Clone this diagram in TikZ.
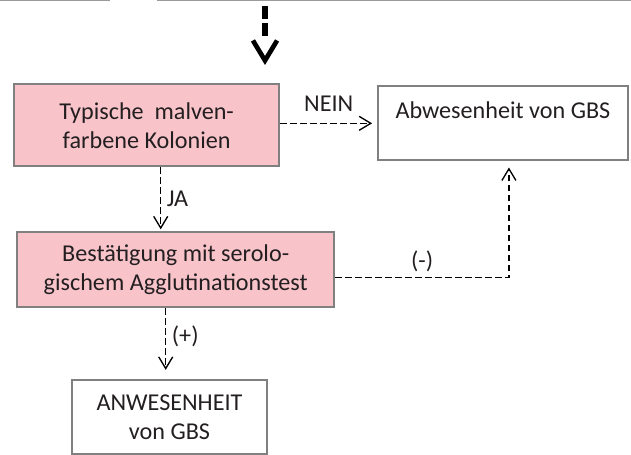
\documentclass[tikz,border=0pt]{standalone}
\usepackage{fontspec}
\setmainfont{Carlito}
\usetikzlibrary{arrows.meta}
\definecolor{boxpink}{RGB}{248,196,202}
\definecolor{boxgray}{RGB}{128,128,128}
\definecolor{txtgray}{RGB}{35,31,32}
\begin{document}
\begin{tikzpicture}[x=0.6pt,y=-0.6pt,
                font=\fontsize{14.5pt}{17.4pt}\selectfont,text=txtgray,
                box/.style={draw=boxgray,line width=1.2pt,align=center,inner sep=0pt},
                pinkbox/.style={box,fill=boxpink},
                flow/.style={dash pattern=on 4pt off 2pt,line width=0.8pt,-{Straight Barb[length=7pt,width=8.4pt]}}]
                \useasboundingbox (0,0) rectangle (631,455);
                %% top rule
                \draw[boxgray!80,line width=0.6pt] (0,0.5) -- (110,0.5) (156.7,0.5) -- (631,0.5);
                %% boxes
                \node[anchor=center,pinkbox,minimum width=159.2pt,minimum height=49.2pt] (typ) at (146.7,125.5) {Typische\ \ malven-\\farbene Kolonien};
                \node[anchor=center,box,minimum width=149.8pt,minimum height=44.4pt,text height=10.5pt,text depth=16.7pt] (abw) at (502.9,123.5) {Abwesenheit von GBS};
                \node[anchor=center,pinkbox,minimum width=190.4pt,minimum height=45pt] (bes) at (175.7,269.5) {Bestätigung mit serolo-\\gischem Agglutinationstest};
                \node[anchor=center,box,minimum width=117pt,minimum height=44.4pt] (anw) at (169.5,417) {ANWESENHEIT\\von GBS};
                %% incoming arrow
                \coordinate (start) at (265,6);
                \coordinate (entry) at (265,65);
                \draw[line width=3.6pt,dash pattern=on 8pt off 2pt on 8pt off 40pt,-{Straight Barb[length=12pt,width=14.5pt,line width=2.8pt]}] (start) -- (entry);
                %% connectors
                \draw[flow,shorten >=3pt] ([yshift=1.3pt]typ.east) -- ([yshift=1.3pt]abw.west |- typ.east) node[midway,above=3.2pt] {NEIN};
                \draw[flow,shorten >=1pt] ([xshift=8.4pt]typ.south) -- ([xshift=8.4pt]typ.south |- bes.north) node[midway,right] {JA};
                \draw[flow,shorten >=3.6pt] ([yshift=-4.9pt]bes.east) -| ([xshift=3.6pt]abw.south) node[pos=0.25,above] {(-)};
                \draw[flow,shorten >=5.5pt] ([xshift=-6pt]bes.south) -- ([xshift=-6pt]bes.south |- anw.north) node[pos=0.4,right] {(+)};
\end{tikzpicture}
\end{document}
